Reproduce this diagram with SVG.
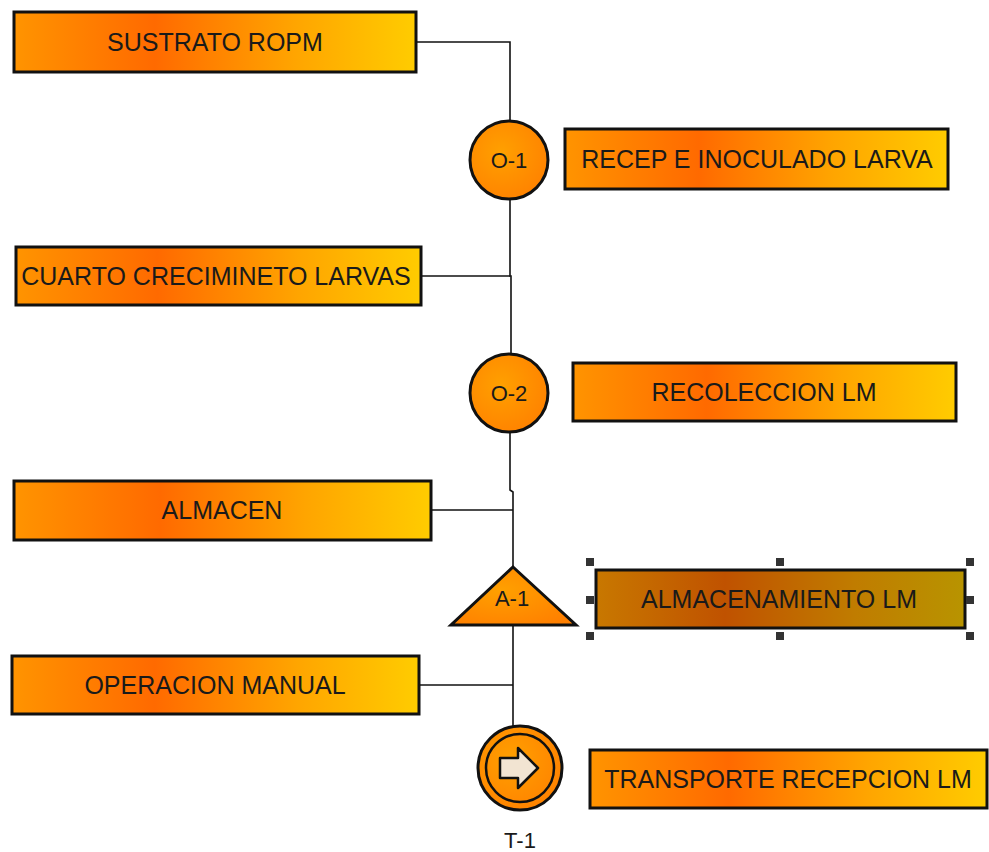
<svg xmlns="http://www.w3.org/2000/svg" width="989" height="852" viewBox="0 0 989 852">
<defs>
<linearGradient id="g" x1="0" y1="0" x2="1" y2="0">
<stop offset="0" stop-color="#FF9400"/>
<stop offset="0.35" stop-color="#FF6A00"/>
<stop offset="0.7" stop-color="#FFA500"/>
<stop offset="1" stop-color="#FFCC00"/>
</linearGradient>
<linearGradient id="gs" x1="0" y1="0" x2="1" y2="0">
<stop offset="0" stop-color="#C87800"/>
<stop offset="0.35" stop-color="#C05200"/>
<stop offset="0.7" stop-color="#C07C00"/>
<stop offset="1" stop-color="#B89400"/>
</linearGradient>
<radialGradient id="gc" cx="0.4" cy="0.4" r="0.7">
<stop offset="0" stop-color="#FFA000"/>
<stop offset="1" stop-color="#FF8000"/>
</radialGradient>
</defs>
<style>
.box{fill:url(#g);stroke:#111;stroke-width:3}
.sel{fill:url(#gs);stroke:#111;stroke-width:3}
.sym{fill:url(#gc);stroke:#111;stroke-width:3}
.lbl{font-family:"Liberation Sans",Arial,sans-serif;font-size:25px;fill:#1a1a1a;text-anchor:middle;dominant-baseline:central}
.sm{font-family:"Liberation Sans",Arial,sans-serif;font-size:22px;fill:#1a1a1a;text-anchor:middle;dominant-baseline:central}
.con{fill:none;stroke:#111;stroke-width:1.6}
.h{fill:#333}
</style>
<g id="connectors">
<polyline class="con" points="416,42 510,42 510,120"/>
<polyline class="con" points="510,200 510,276 511,276 511,353"/>
<line class="con" x1="421" y1="276" x2="510" y2="276"/>
<polyline class="con" points="510,433 510,490 513,492 513,567"/>
<line class="con" x1="431" y1="510" x2="513" y2="510"/>
<line class="con" x1="513" y1="625" x2="513" y2="727"/>
<line class="con" x1="419" y1="685" x2="513" y2="685"/>
</g>
<g id="sustrato">
<rect class="box" x="14" y="12" width="402" height="60"/>
<text class="lbl" x="215" y="42">SUSTRATO ROPM</text>
</g>
<g id="o1">
<circle class="sym" cx="509" cy="160" r="39"/>
<text class="sm" x="509" y="160">O-1</text>
</g>
<g id="recep">
<rect class="box" x="565" y="129" width="383" height="60"/>
<text class="lbl" x="757" y="159">RECEP E INOCULADO LARVA</text>
</g>
<g id="cuarto">
<rect class="box" x="16" y="247" width="405" height="58"/>
<text class="lbl" x="216" y="276">CUARTO CRECIMINETO LARVAS</text>
</g>
<g id="o2">
<circle class="sym" cx="509" cy="393" r="39"/>
<text class="sm" x="509" y="393">O-2</text>
</g>
<g id="recoleccion">
<rect class="box" x="573" y="363" width="383" height="58"/>
<text class="lbl" x="764" y="392">RECOLECCION LM</text>
</g>
<g id="almacen">
<rect class="box" x="14" y="481" width="417" height="59"/>
<text class="lbl" x="222" y="510">ALMACEN</text>
</g>
<g id="a1">
<polygon class="sym" points="513,567 576,625 451,625" stroke-linejoin="miter"/>
<text class="sm" x="512" y="598">A-1</text>
</g>
<g id="almacenamiento">
<rect class="sel" x="596" y="570" width="369" height="58"/>
<text class="lbl" x="779" y="599">ALMACENAMIENTO LM</text>
<rect class="h" x="586" y="558" width="8" height="8"/>
<rect class="h" x="776" y="558" width="8" height="8"/>
<rect class="h" x="966" y="558" width="8" height="8"/>
<rect class="h" x="586" y="596" width="8" height="8"/>
<rect class="h" x="966" y="596" width="8" height="8"/>
<rect class="h" x="586" y="632" width="8" height="8"/>
<rect class="h" x="776" y="632" width="8" height="8"/>
<rect class="h" x="966" y="632" width="8" height="8"/>
</g>
<g id="operacion">
<rect class="box" x="12" y="656" width="407" height="58"/>
<text class="lbl" x="215" y="685">OPERACION MANUAL</text>
</g>
<g id="t1">
<circle class="sym" cx="520" cy="768" r="42"/>
<circle fill="none" stroke="#111" stroke-width="2.5" cx="520" cy="768" r="34"/>
<path d="M500,758 L518,758 L518,748 L538,768 L518,788 L518,778 L500,778 Z" fill="#F2E4D2" stroke="#111" stroke-width="2.5" stroke-linejoin="round"/>
<text class="sm" x="520" y="840">T-1</text>
</g>
<g id="transporte">
<rect class="box" x="590" y="750" width="397" height="58"/>
<text class="lbl" x="788" y="779">TRANSPORTE RECEPCION LM</text>
</g>
</svg>
